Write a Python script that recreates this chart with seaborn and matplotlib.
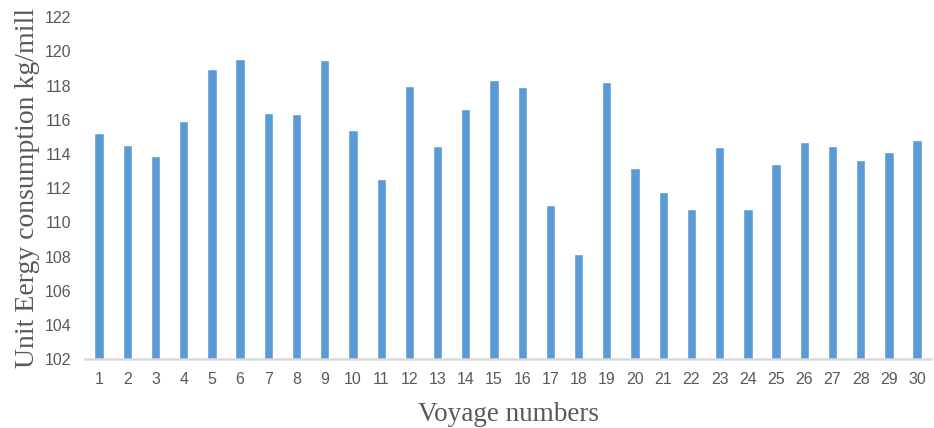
import matplotlib
matplotlib.use("Agg")
import matplotlib.pyplot as plt
import seaborn as sns
import pandas as pd

# Unit energy consumption per voyage
voyages = [str(i) for i in range(1, 31)]
consumption = [115.2, 114.5, 113.85, 115.95, 118.98, 119.54, 116.4, 116.35,
               119.49, 115.4, 112.54, 117.98, 114.49, 116.64, 118.33, 117.92,
               111.0, 108.16, 118.2, 113.19, 111.78, 110.79, 114.42, 110.75,
               113.42, 114.67, 114.49, 113.65, 114.12, 114.84]
y_ticks = list(range(102, 123, 2))

df = pd.DataFrame({"voyage": voyages, "consumption": consumption})

sns.set_theme(style="white")
plt.rcParams["font.family"] = ["Liberation Sans", "DejaVu Sans"]
fig = plt.figure(figsize=(9.34, 4.28), dpi=100)
ax = fig.add_axes([0.091, 0.161, 0.906, 0.799])

sns.barplot(data=df, x="voyage", y="consumption", color="#5B9BD5",
            saturation=1, width=0.33, ax=ax, order=voyages)

ax.set_ylim(102, 122)
ax.set_xlim(-0.5, 29.5)
ax.set_yticks(y_ticks)
ax.set_yticklabels([str(t) for t in y_ticks])

for s in ["top", "right", "left"]:
    ax.spines[s].set_visible(False)
ax.spines["bottom"].set_color("#d9d9d9")
ax.spines["bottom"].set_linewidth(1.8)

ax.tick_params(axis="both", length=0, labelsize=11.5, colors="#595959")
ax.tick_params(axis="x", pad=9)
ax.tick_params(axis="y", pad=10)

ax.set_xlabel("Voyage numbers", family="Liberation Serif", fontsize=19.5,
              color="#595959", labelpad=11)
ax.set_ylabel("Unit Eergy consumption kg/mill", family="Liberation Serif",
              fontsize=20, color="#595959", labelpad=3)

fig.savefig("out.png", dpi=100)
